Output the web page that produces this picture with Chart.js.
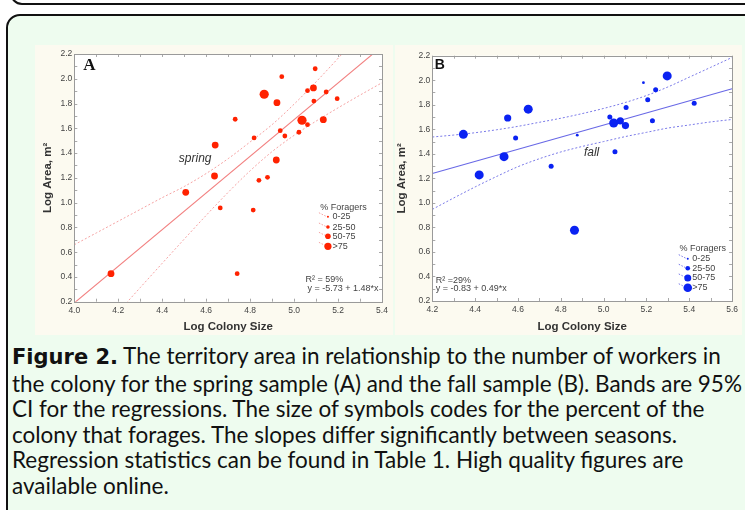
<!DOCTYPE html>
<html><head><meta charset="utf-8">
<script src="https://cdn.jsdelivr.net/npm/chart.js@4.4.0/dist/chart.umd.min.js"></script>
<style>
html,body{margin:0;padding:0;background:#fff;width:745px;height:510px;overflow:hidden;position:relative;font-family:'Liberation Sans',Arial,sans-serif}
#topbox{position:absolute;left:10px;top:-40px;width:780px;height:41px;border:2px solid #111;border-radius:12px;background:#fff}
#box{position:absolute;left:6px;top:14px;width:790px;height:560px;border:2px solid #111;border-radius:14px;background:#eefcef}
canvas{position:absolute;background:#fcfaf0}
#cA{left:35px;top:45px}
#cB{left:395px;top:45px}
#cap{position:absolute;left:12px;top:343px;font-family:Lato,'Open Sans',sans-serif;font-size:22.5px;line-height:25.5px;color:#111;white-space:nowrap}
#cap b{font-family:'DejaVu Sans',Lato,sans-serif;font-weight:bold;font-size:21px}
</style>
</head><body>
<div id="topbox"></div>
<div id="box"></div>
<canvas id="cA" width="358" height="290"></canvas>
<canvas id="cB" width="347" height="290"></canvas>
<div id="cap">
<div><b>Figure 2.</b> The territory area in relationship to the number of workers in</div>
<div>the colony for the spring sample (A) and the fall sample (B). Bands are 95%</div>
<div>CI for the regressions. The size of symbols codes for the percent of the</div>
<div>colony that forages. The slopes differ significantly between seasons.</div>
<div>Regression statistics can be found in Table 1. High quality figures are</div>
<div>available online.</div>
</div>
<script>
// ---------- DATA ----------
// Foragers category: 0 = 0-25, 1 = 25-50, 2 = 50-75, 3 = >75
const foragerLabels = ['0-25', '25-50', '50-75', '>75'];

const springX = [4.167, 4.507, 4.641, 4.638, 4.664, 4.732, 4.741, 4.818, 4.814, 4.840, 4.879, 4.864, 4.922, 4.919, 4.944, 4.937, 4.958, 5.022, 5.036, 5.061, 5.061, 5.088, 5.090, 5.096, 5.133, 5.146, 5.196];
const springY = [0.426, 1.083, 1.465, 1.215, 0.957, 1.673, 0.426, 1.522, 0.940, 1.180, 1.204, 1.875, 1.807, 1.344, 2.017, 1.581, 1.538, 1.568, 1.665, 1.629, 1.904, 1.926, 1.820, 2.081, 1.670, 1.893, 1.839];
const springCat = [2, 2, 2, 2, 1, 1, 1, 1, 1, 1, 1, 3, 2, 2, 1, 1, 1, 1, 3, 1, 1, 2, 1, 1, 2, 1, 1];

const springFitX = [4.0, 5.4];
const springFitY = [0.19, 2.262];
const springBandX = [4.0, 4.1, 4.2, 4.3, 4.4, 4.5, 4.6, 4.7, 4.8, 4.9, 5.0, 5.1, 5.2, 5.3, 5.4];
const springUpper = [0.66, 0.755, 0.85, 0.945, 1.04, 1.13, 1.235, 1.355, 1.49, 1.63, 1.795, 1.975, 2.165, 2.36, 2.556];
const springLower = [null, null, 0.117, 0.314, 0.51, 0.705, 0.897, 1.083, 1.257, 1.412, 1.543, 1.658, 1.765, 1.868, 1.968];

const fallX = [4.345, 4.419, 4.535, 4.552, 4.589, 4.648, 4.755, 4.877, 4.864, 5.029, 5.047, 5.053, 5.078, 5.102, 5.105, 5.186, 5.206, 5.228, 5.243, 5.297, 5.423];
const fallY = [1.559, 1.228, 1.377, 1.692, 1.529, 1.764, 1.298, 1.552, 0.777, 1.701, 1.651, 1.417, 1.668, 1.630, 1.777, 1.980, 1.841, 1.670, 1.923, 2.035, 1.812];
const fallCat = [3, 3, 3, 2, 1, 3, 1, 0, 3, 1, 3, 1, 2, 2, 1, 0, 1, 1, 1, 3, 1];

const fallFitX = [4.2, 5.6];
const fallFitY = [1.24, 1.93];
const fallBandX = [4.2, 4.3, 4.4, 4.5, 4.6, 4.7, 4.8, 4.9, 5.0, 5.1, 5.2, 5.3, 5.4, 5.5, 5.6];
const fallUpper = [1.537, 1.553, 1.572, 1.596, 1.624, 1.657, 1.69, 1.728, 1.77, 1.818, 1.875, 1.945, 2.025, 2.105, 2.186];
const fallLower = [0.947, 1.04, 1.13, 1.215, 1.295, 1.36, 1.415, 1.46, 1.5, 1.54, 1.575, 1.61, 1.635, 1.66, 1.68];

const springXTicks = [4.0, 4.2, 4.4, 4.6, 4.8, 5.0, 5.2, 5.4];
const fallXTicks = [4.2, 4.4, 4.6, 4.8, 5.0, 5.2, 5.4, 5.6];
const yTicks = [0.2, 0.4, 0.6, 0.8, 1.0, 1.2, 1.4, 1.6, 1.8, 2.0, 2.2];

// ---------- helpers ----------
const pts = (xs, ys) => xs.map((v, i) => ({x: v, y: ys[i]}));

const deco = {
  id: 'deco',
  beforeDatasetsDraw(chart) {
    const {ctx, chartArea: a} = chart;
    ctx.save();
    ctx.fillStyle = '#ffffff';
    ctx.fillRect(a.left, a.top, a.right - a.left, a.bottom - a.top);
    ctx.restore();
  },
  afterDraw(chart, args, o) {
    const {ctx, chartArea: a, scales: {x, y}} = chart;
    ctx.save();
    ctx.strokeStyle = '#a9a9a9';
    ctx.lineWidth = 1;
    ctx.beginPath();
    for (let k = Math.round(x.min * 10); k <= Math.round(x.max * 10); k++) {
      const px = Math.round(x.getPixelForValue(k / 10)) + 0.5;
      ctx.moveTo(px, a.top); ctx.lineTo(px, a.top + 3);
      ctx.moveTo(px, a.bottom); ctx.lineTo(px, a.bottom - 3);
    }
    for (let k = Math.round(y.min * 10); k <= Math.round(y.max * 10); k++) {
      const py = Math.round(y.getPixelForValue(k / 10)) + 0.5;
      ctx.moveTo(a.left, py); ctx.lineTo(a.left + 3, py);
      ctx.moveTo(a.right, py); ctx.lineTo(a.right - 3, py);
    }
    ctx.stroke();
    ctx.strokeStyle = '#9a9a9a';
    ctx.strokeRect(Math.round(a.left) + 0.5, Math.round(a.top) + 0.5, Math.round(a.right - a.left), Math.round(a.bottom - a.top));

    ctx.fillStyle = '#111';
    ctx.font = o.letterFont;
    ctx.textAlign = 'left';
    ctx.textBaseline = 'middle';
    ctx.fillText(o.letter, a.left + o.letterDx, a.top + o.letterDy);

    o.texts.forEach(t => {
      ctx.font = t.font;
      ctx.fillStyle = t.color;
      ctx.textAlign = t.align || 'left';
      ctx.textBaseline = 'middle';
      ctx.fillText(t.text, x.getPixelForValue(t.x), y.getPixelForValue(t.y));
    });

    const L = o.legend;
    ctx.font = '9px "Liberation Sans", Arial';
    ctx.fillStyle = '#444';
    ctx.textAlign = 'left';
    ctx.fillText('% Foragers', x.getPixelForValue(L.titleX), y.getPixelForValue(L.titleY));
    L.rowsY.forEach((ry, i) => {
      const mx = x.getPixelForValue(L.markerX), my = y.getPixelForValue(ry);
      ctx.strokeStyle = L.lineColor;
      ctx.lineWidth = 1;
      ctx.setLineDash([1.5, 1.5]);
      ctx.beginPath(); ctx.moveTo(mx - 9, my - 4); ctx.lineTo(mx - 1, my); ctx.stroke();
      ctx.setLineDash([]);
      ctx.fillStyle = L.color;
      ctx.beginPath(); ctx.arc(mx, my, L.radii[i], 0, Math.PI * 2); ctx.fill();
      ctx.fillStyle = '#444';
      ctx.fillText(foragerLabels[i], mx + 4.5, my);
    });
    ctx.restore();
  }
};

function makeChart(id, cfg) {
  const tickFont = {family: '"Liberation Sans", Arial', size: 8.5};
  const titleFont = {family: '"Liberation Sans", Arial', size: 11.5, weight: 'bold'};
  return new Chart(document.getElementById(id), {
    type: 'scatter',
    data: {
      datasets: [
        {
          data: pts(cfg.x, cfg.y),
          pointRadius: cfg.cat.map(c => cfg.radii[c]),
          pointHoverRadius: cfg.cat.map(c => cfg.radii[c]),
          backgroundColor: cfg.color, borderColor: cfg.color, borderWidth: 0,
          showLine: false
        },
        {
          data: pts(cfg.fitX, cfg.fitY), showLine: true, pointRadius: 0,
          borderColor: cfg.lineColor, borderWidth: 1.1, fill: false
        },
        {
          data: pts(cfg.bandX, cfg.upper), showLine: true, pointRadius: 0, spanGaps: true,
          borderColor: cfg.bandColor, borderWidth: 1, borderDash: [2, 2], cubicInterpolationMode: 'monotone'
        },
        {
          data: pts(cfg.bandX, cfg.lower), showLine: true, pointRadius: 0, spanGaps: true,
          borderColor: cfg.bandColor, borderWidth: 1, borderDash: [2, 2], cubicInterpolationMode: 'monotone'
        }
      ]
    },
    options: {
      responsive: false, animation: false, devicePixelRatio: 1,
      layout: {padding: cfg.padding},
      plugins: {legend: {display: false}, tooltip: {enabled: false}, deco: cfg.deco},
      scales: {
        x: {
          type: 'linear', min: cfg.xTicks[0], max: cfg.xTicks[cfg.xTicks.length - 1],
          afterBuildTicks: s => { s.ticks = cfg.xTicks.map(v => ({value: v})); },
          afterFit: s => { s.height = cfg.xHeight; },
          grid: {display: false, drawTicks: false}, border: {display: false},
          ticks: {font: tickFont, color: '#444', padding: 4, maxRotation: 0, autoSkip: false, callback: v => Number(v).toFixed(1)},
          title: {display: true, text: 'Log Colony Size', font: titleFont, color: '#333', padding: {top: 0, bottom: cfg.xTitlePad}}
        },
        y: {
          type: 'linear', min: yTicks[0], max: yTicks[yTicks.length - 1],
          afterBuildTicks: s => { s.ticks = yTicks.map(v => ({value: v})); },
          afterFit: s => { s.width = cfg.yWidth; },
          grid: {display: false, drawTicks: false}, border: {display: false},
          ticks: {font: tickFont, color: '#444', padding: 2, autoSkip: false, callback: v => Number(v).toFixed(1)},
          title: {display: true, text: 'Log Area, m²', font: titleFont, color: '#333', padding: {top: cfg.yTitlePad, bottom: 0}}
        }
      }
    },
    plugins: [deco]
  });
}

makeChart('cA', {
  x: springX, y: springY, cat: springCat, radii: [1.3, 2.4, 3.4, 4.6],
  color: '#ff2200', lineColor: '#f28080', bandColor: '#f5a3a3',
  fitX: springFitX, fitY: springFitY, bandX: springBandX, upper: springUpper, lower: springLower,
  xTicks: springXTicks,
  padding: {left: 0, top: 9, right: 11, bottom: 0}, yWidth: 39.3, xHeight: 33.3, yTitlePad: 6, xTitlePad: 1.2,
  deco: {
    letter: 'A', letterFont: 'bold 17px "Liberation Serif", "Times New Roman", serif', letterDx: 9, letterDy: 12,
    texts: [
      {text: 'spring', x: 4.55, y: 1.358, font: 'italic 12px "Liberation Sans", Arial', color: '#333', align: 'center'},
      {text: 'R² = 59%', x: 5.052, y: 0.383, font: '9px "Liberation Sans", Arial', color: '#444'},
      {text: 'y = -5.73 + 1.48*x', x: 5.061, y: 0.303, font: '9px "Liberation Sans", Arial', color: '#444'}
    ],
    legend: {titleX: 5.119, titleY: 0.959, markerX: 5.154, rowsY: [0.886, 0.803, 0.728, 0.647], radii: [1, 1.8, 2.8, 3.6], color: '#ff2200', lineColor: '#f5a3a3'}
  }
});

makeChart('cB', {
  x: fallX, y: fallY, cat: fallCat, radii: [1.4, 2.5, 3.6, 4.5],
  color: '#0a22f2', lineColor: '#6868e6', bandColor: '#7a7ae8',
  fitX: fallFitX, fitY: fallFitY, bandX: fallBandX, upper: fallUpper, lower: fallLower,
  xTicks: fallXTicks,
  padding: {left: 0, top: 10.7, right: 5.3, bottom: 0}, yWidth: 37.3, xHeight: 34, yTitlePad: 0, xTitlePad: 1.2,
  deco: {
    letter: 'B', letterFont: 'bold 14px "Liberation Sans", Arial', letterDx: 2.4, letterDy: 9.6,
    texts: [
      {text: 'fall', x: 4.944, y: 1.412, font: 'italic 12px "Liberation Sans", Arial', color: '#333', align: 'center'},
      {text: 'R² =29%', x: 4.216, y: 0.371, font: '9px "Liberation Sans", Arial', color: '#444'},
      {text: 'y = -0.83 + 0.49*x', x: 4.216, y: 0.298, font: '9px "Liberation Sans", Arial', color: '#444'}
    ],
    legend: {titleX: 5.354, titleY: 0.624, markerX: 5.393, rowsY: [0.545, 0.467, 0.388, 0.308], radii: [1, 2.3, 3.5, 4.3], color: '#0a22f2', lineColor: '#7a7ae8'}
  }
});
</script>
</body></html>
